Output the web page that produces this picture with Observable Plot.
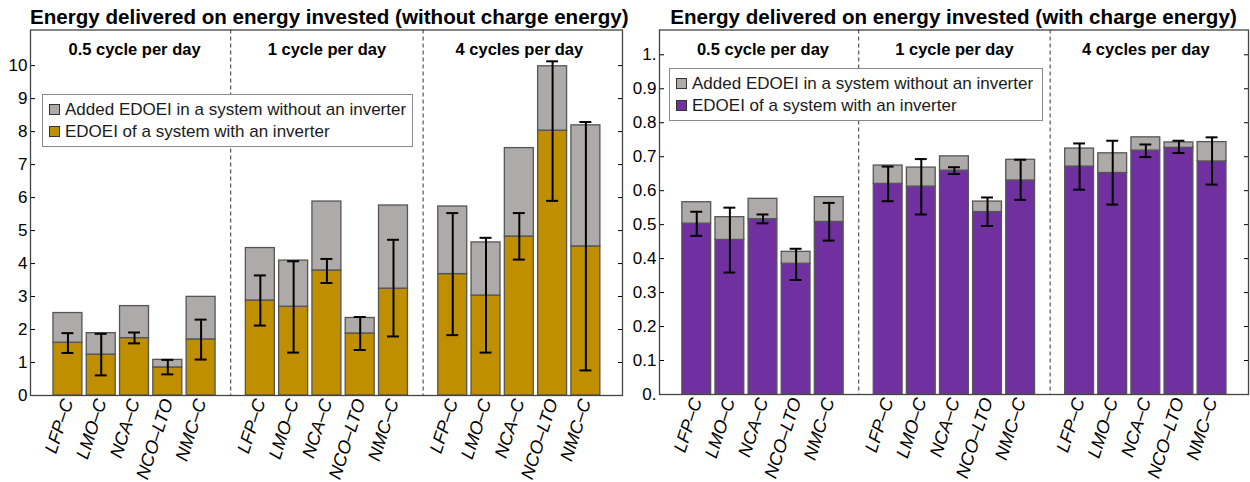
<!DOCTYPE html>
<html>
<head>
<meta charset="utf-8">
<script src="https://cdn.jsdelivr.net/npm/d3@7"></script>
<script src="https://cdn.jsdelivr.net/npm/@observablehq/plot@0.6"></script>
<style>
  body { margin: 0; background: #fff; font-family: 'Liberation Sans', Arial, sans-serif; }
  #wrap { display: flex; width: 1250px; height: 482px; }
  .panel { position: relative; }
  .title { height: 28px; box-sizing: border-box; padding-top: 7px; font-size: 20.6px; line-height: 20px; font-weight: bold; text-align: center; color: #000; white-space: nowrap; }
  .legend { position: absolute; box-sizing: border-box; border: 1.3px solid #8a8a8a; background: #fff; padding-top: 4px; font-size: 17px; color: #1a1a1a; }
  .legend .row { height: 21.5px; line-height: 21.5px; white-space: nowrap; display: flex; align-items: center; }
  .legend .sw { display: inline-block; width: 11px; height: 11px; box-sizing: border-box; border: 1px solid #333; margin-left: 6px; margin-right: 5px; }
</style>
</head>
<body>
<div id="wrap">
  <div class="panel" id="left" style="width:630px"></div>
  <div class="panel" id="right" style="width:620px"></div>
</div>
<script>
// ---------- data ----------
const batteries = ["LFP–C", "LMO–C", "NCA–C", "NCO–LTO", "NMC–C"];
const cycles = ["0.5 cycle per day", "1 cycle per day", "4 cycles per day"];
const seriesNames = ["Added EDOEI in a system without an inverter", "EDOEI of a system with an inverter"];

// Left panel: without charge energy (order: 0.5, 1, 4 cycles/day × batteries)
const withInvL = [1.60, 1.24, 1.74, 0.85, 1.70,  2.88, 2.69, 3.79, 1.88, 3.24,  3.68, 3.03, 4.82, 8.03, 4.52];
const totalL   = [2.50, 1.89, 2.71, 1.08, 2.99,  4.47, 4.09, 5.88, 2.35, 5.76,  5.73, 4.64, 7.50, 9.98, 8.19];
const errLoL   = [1.29, 0.61, 1.58, 0.64, 1.09,  2.12, 1.30, 3.41, 1.38, 1.79,  1.83, 1.30, 4.12, 5.90, 0.76];
const errHiL   = [1.89, 1.87, 1.91, 1.08, 2.30,  3.64, 4.07, 4.14, 2.38, 4.72,  5.53, 4.78, 5.53, 10.13, 8.29];

// Right panel: with charge energy
const withInvR = [0.503, 0.455, 0.516, 0.385, 0.508,  0.620, 0.612, 0.659, 0.537, 0.630,  0.671, 0.652, 0.718, 0.726, 0.686];
const totalR   = [0.566, 0.522, 0.576, 0.420, 0.581,  0.674, 0.668, 0.701, 0.568, 0.691,  0.724, 0.710, 0.757, 0.742, 0.743];
const errLoR   = [0.467, 0.359, 0.504, 0.337, 0.453,  0.569, 0.530, 0.649, 0.496, 0.573,  0.603, 0.559, 0.699, 0.711, 0.618];
const errHiR   = [0.538, 0.550, 0.530, 0.429, 0.564,  0.671, 0.693, 0.669, 0.580, 0.691,  0.739, 0.747, 0.736, 0.747, 0.757];

const yTicksL = [0, 1, 2, 3, 4, 5, 6, 7, 8, 9, 10];
const yTickLabelsL = ["0", "1", "2", "3", "4", "5", "6", "7", "8", "9", "10"];
const yTicksR = [0, 0.1, 0.2, 0.3, 0.4, 0.5, 0.6, 0.7, 0.8, 0.9, 1];
const yTickLabelsR = ["0.", "0.1", "0.2", "0.3", "0.4", "0.5", "0.6", "0.7", "0.8", "0.9", "1."];

const titles = ["Energy delivered on energy invested (without charge energy)", "Energy delivered on energy invested (with charge energy)"];

// ---------- styling ----------
const GRAY = "#AEAAAA", GOLD = "#BF8F00", PURPLE = "#7030A0";
const G = 5.78, HALF = 0.435, CAP = 0.18;

function rows(withInv, total, lo, hi) {
  return withInv.map((v, k) => {
    const g = Math.floor(k / 5), i = k % 5, c = g * G + i;
    return {g, i, c, x1: c - HALF, x2: c + HALF, inner: v, total: total[k], lo: lo[k], hi: hi[k], label: batteries[i]};
  });
}

function panel({data, color, yDomain, yTicks, yLabels, width, marginLeft, marginRight, marginBottom}) {
  const tickPos = data.map(d => d.c);
  const labelOf = new Map(data.map(d => [d.c, d.label]));
  const yLab = new Map(yTicks.map((t, i) => [t, yLabels[i]]));
  const groupCenters = cycles.map((name, g) => ({name, c: g * G + 2}));
  const dividers = [1, 2].map(g => g * G - (G - 4) / 2);
  return Plot.plot({
    width, height: 454,
    marginTop: 1.5, marginBottom, marginLeft, marginRight,
    x: {domain: [-1.125, 2 * G + 4 + 1.1]},
    y: {domain: yDomain},
    style: {fontFamily: "'Liberation Sans', Arial, sans-serif", fontSize: "17px", color: "#000", background: "#fff", overflow: "visible"},
    marks: [
      Plot.ruleX(dividers, {stroke: "#333", strokeDasharray: "4,3", strokeWidth: 1}),
      Plot.rectY(data, {x1: "x1", x2: "x2", y1: 0, y2: "inner", fill: color, stroke: "#555", strokeWidth: 1.3}),
      Plot.rectY(data, {x1: "x1", x2: "x2", y1: "inner", y2: "total", fill: GRAY, stroke: "#555", strokeWidth: 1.3}),
      Plot.ruleX(data, {x: "c", y1: "lo", y2: "hi", stroke: "#000", strokeWidth: 2}),
      Plot.ruleY(data, {y: "lo", x1: d => d.c - CAP, x2: d => d.c + CAP, stroke: "#000", strokeWidth: 2}),
      Plot.ruleY(data, {y: "hi", x1: d => d.c - CAP, x2: d => d.c + CAP, stroke: "#000", strokeWidth: 2}),
      Plot.text(groupCenters, {x: "c", frameAnchor: "top", dy: 13, text: "name", fontWeight: "bold", fontSize: 16.5}),
      Plot.axisY(yTicks, {anchor: "left", tickSize: -5, tickPadding: 8, tickFormat: d => yLab.get(d), fontSize: 17, label: null}),
      Plot.axisY(yTicks, {anchor: "right", tickSize: -5, tickFormat: () => "", label: null}),
      Plot.axisX(tickPos, {anchor: "bottom", tickSize: 0, tickPadding: 4, tickRotate: -72, tickFormat: d => labelOf.get(d), fontSize: 18, fontStyle: "italic", label: null}),
      Plot.frame({stroke: "#444", strokeWidth: 1.3})
    ]
  });
}

function legendBox(container, color, left, top, width) {
  const box = document.createElement("div");
  box.className = "legend";
  box.style.left = left + "px"; box.style.top = top + "px";
  box.style.width = width + "px"; box.style.height = "53px";
  const cols = [GRAY, color];
  seriesNames.forEach((name, i) => {
    const r = document.createElement("div"); r.className = "row";
    const s = document.createElement("span"); s.className = "sw"; s.style.background = cols[i];
    const t = document.createElement("span"); t.textContent = name;
    r.appendChild(s); r.appendChild(t); box.appendChild(r);
  });
  container.appendChild(box);
}

function build(id, title, opts, legendPos) {
  const el = document.getElementById(id);
  const t = document.createElement("div");
  t.className = "title"; t.textContent = title;
  t.style.paddingLeft = opts.marginLeft + "px"; t.style.paddingRight = opts.marginRight + "px";
  el.appendChild(t);
  el.appendChild(panel(opts));
  legendBox(el, opts.color, ...legendPos);
}

build("left", titles[0], {
  data: rows(withInvL, totalL, errLoL, errHiL), color: GOLD,
  yDomain: [0, 11.08], yTicks: yTicksL, yLabels: yTickLabelsL,
  width: 630, marginLeft: 30, marginRight: 8, marginBottom: 87
}, [42, 94, 371]);

build("right", titles[1], {
  data: rows(withInvR, totalR, errLoR, errHiR), color: PURPLE,
  yDomain: [0, 1.073], yTicks: yTicksR, yLabels: yTickLabelsR,
  width: 620, marginLeft: 29, marginRight: 2, marginBottom: 88
}, [39, 68, 374]);
</script>
</body>
</html>
